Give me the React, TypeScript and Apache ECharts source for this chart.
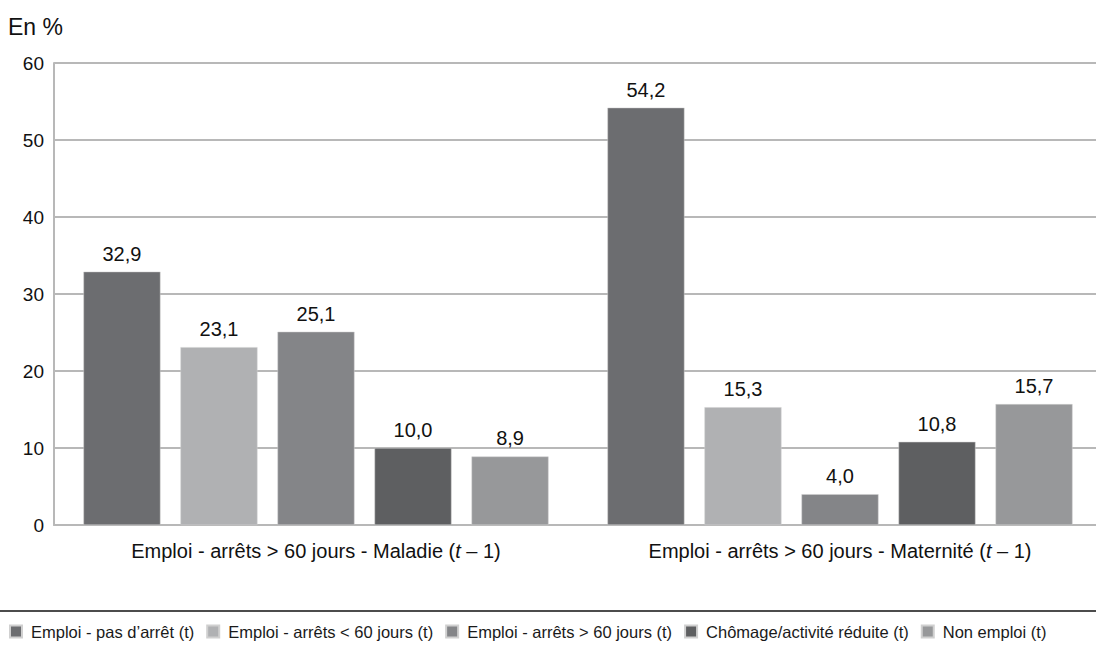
import React, { useEffect, useRef } from "react";
import * as echarts from "echarts";

const categories = [
  "Emploi - arrêts > 60 jours - Maladie ({i|t} – 1)",
  "Emploi - arrêts > 60 jours - Maternité ({i|t} – 1)",
];
const seriesNames = [
  "Emploi - pas d’arrêt (t)",
  "Emploi - arrêts < 60 jours (t)",
  "Emploi - arrêts > 60 jours (t)",
  "Chômage/activité réduite (t)",
  "Non emploi (t)",
];
const emploiPasArret = [32.9, 54.2];
const emploiMoins60 = [23.1, 15.3];
const emploiPlus60 = [25.1, 4.0];
const chomage = [10.0, 10.8];
const nonEmploi = [8.9, 15.7];
const seriesValues = [emploiPasArret, emploiMoins60, emploiPlus60, chomage, nonEmploi];
const colors = ["#6c6d70", "#b0b1b3", "#848588", "#5e5f61", "#97989a"];
const yTicks = { min: 0, max: 60, interval: 10 };

const FONT = "'Liberation Sans', Arial, Helvetica, sans-serif";

export default function App() {
  const ref = useRef<HTMLDivElement>(null);
  useEffect(() => {
    if (!ref.current) return;
    const chart = echarts.init(ref.current, null, { renderer: "svg" });
    chart.setOption({
      animation: false,
      textStyle: { fontFamily: FONT },
      grid: { left: 54, right: 8, top: 63, bottom: 125 },
      legend: {
        left: 4,
        top: 618,
        itemWidth: 12,
        itemHeight: 12,
        itemGap: 12,
        icon: "rect",
        data: seriesNames,
        textStyle: { fontSize: 16.5, color: "#1a1a1a", fontFamily: FONT, padding: [0, 0, 0, 4] },
      },
      graphic: [
        {
          type: "line",
          shape: { x1: 0, y1: 611, x2: 1110, y2: 611 },
          style: { stroke: "#111", lineWidth: 1.5 },
        },
        {
          type: "text",
          left: 8,
          top: 15,
          style: { text: "En %", fontSize: 23, fill: "#111", fontFamily: FONT },
        },
      ],
      xAxis: {
        type: "category",
        data: categories,
        axisTick: { show: false },
        axisLine: { show: true, lineStyle: { color: "#b8b8b8", width: 2 } },
        axisLabel: {
          interval: 0,
          fontSize: 20,
          color: "#111",
          margin: 16,
          fontFamily: FONT,
          rich: { i: { fontStyle: "italic", fontSize: 20, color: "#111", fontFamily: FONT } },
        },
      },
      yAxis: {
        type: "value",
        min: yTicks.min,
        max: yTicks.max,
        interval: yTicks.interval,
        axisLine: { show: true, lineStyle: { color: "#b8b8b8", width: 2 } },
        axisTick: { show: false },
        splitLine: { lineStyle: { color: "#b8b8b8", width: 2 } },
        axisLabel: { fontSize: 19, color: "#111", margin: 10, fontFamily: FONT, align: "right" },
      },
      series: seriesValues.map((vals, i) => ({
        name: seriesNames[i],
        type: "bar",
        data: vals,
        barWidth: 77,
        barGap: "26%",
        itemStyle: { color: colors[i], borderColor: "#d0d0d0", borderWidth: 0.5 },
        label: {
          show: true,
          position: "top",
          distance: 8,
          fontSize: 20,
          color: "#111",
          fontFamily: FONT,
          formatter: (p: any) => Number(p.value).toFixed(1).replace(".", ","),
        },
      })),
    });
    return () => chart.dispose();
  }, []);
  return (
    <div style={{ position: "fixed", left: 0, top: 0, width: 1096, height: 650, overflow: "hidden", background: "#fff" }}>
      <div ref={ref} style={{ width: 1110, height: 650 }} />
    </div>
  );
}
